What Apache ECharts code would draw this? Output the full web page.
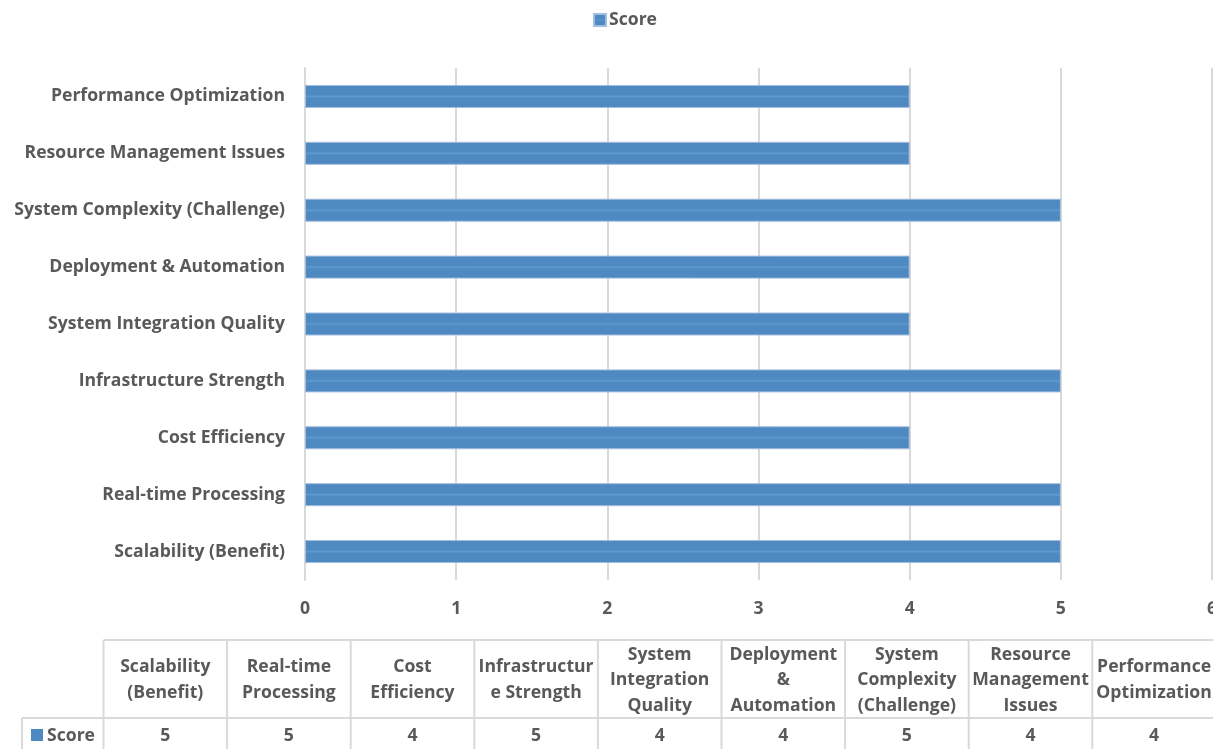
<!DOCTYPE html>
<html>
<head>
<meta charset="utf-8">
<script src="https://cdn.jsdelivr.net/npm/echarts@6/dist/echarts.min.js"></script>
<style>
html,body{margin:0;padding:0;background:#fff;}
#chart{width:1213px;height:749px;}
</style>
</head>
<body>
<div id="chart"></div>
<script>
const categories = [
  'Scalability (Benefit)',
  'Real-time Processing',
  'Cost Efficiency',
  'Infrastructure Strength',
  'System Integration Quality',
  'Deployment & Automation',
  'System Complexity (Challenge)',
  'Resource Management Issues',
  'Performance Optimization'
];
const scores = [5, 5, 4, 5, 4, 4, 5, 4, 4];
const tableHeaders = [
  ['Scalability', '(Benefit)'],
  ['Real-time', 'Processing'],
  ['Cost', 'Efficiency'],
  ['Infrastructur', 'e Strength'],
  ['System', 'Integration', 'Quality'],
  ['Deployment', '&', 'Automation'],
  ['System', 'Complexity', '(Challenge)'],
  ['Resource', 'Management', 'Issues'],
  ['Performance', 'Optimization']
];
const seriesName = 'Score';
const xTicks = [0, 1, 2, 3, 4, 5, 6];

const FONT = '"Open Sans", sans-serif';
const FS = 17.6;
const TXT = '#595959';
const GRIDC = '#D9D9D9';
const BAR = '#4F89C1';

const chart = echarts.init(document.getElementById('chart'));

// table geometry
const tLeft = 103.5, colW = 123.6, headTop = 640, headBot = 718, rowBot = 752, keyLeft = 22;
const g = [];
const line = (x1, y1, x2, y2) => g.push({type:'line', shape:{x1, y1, x2, y2}, style:{stroke:GRIDC, lineWidth:2}, silent:true});
line(tLeft, headTop, 1213, headTop);
line(keyLeft, headBot, 1213, headBot);
line(keyLeft, headBot, keyLeft, rowBot);
for (let i = 0; i <= categories.length; i++) {
  const x = tLeft + i * colW;
  line(x, headTop, x, rowBot);
}
const lh = 25.5;
const tfont = 'bold ' + FS + 'px ' + FONT;
tableHeaders.forEach((lines, i) => {
  const cx = tLeft + (i + 0.5) * colW;
  const mid = (headTop + headBot) / 2 + 1;
  lines.forEach((t, j) => {
    const y = mid + (j - (lines.length - 1) / 2) * lh;
    g.push({type:'text', x: cx, y: y, style:{text:t, fill:TXT, font:tfont, align:'center', verticalAlign:'middle'}, silent:true});
  });
  g.push({type:'text', x: cx, y: 736, style:{text:String(scores[i]), fill:TXT, font:tfont, align:'center', verticalAlign:'middle'}, silent:true});
});
g.push({type:'rect', shape:{x:31, y:729, width:12, height:12}, style:{fill:BAR}, silent:true});
g.push({type:'text', x: 47, y: 736, style:{text:seriesName, fill:TXT, font:tfont, align:'left', verticalAlign:'middle'}, silent:true});

chart.setOption({
  animation: false,
  backgroundColor: '#fff',
  legend: {
    data: [seriesName],
    left: 588, top: 6,
    icon: 'rect', itemWidth: 12, itemHeight: 12, itemGap: 10,
    textStyle: {color: TXT, fontFamily: FONT, fontWeight: 'bold', fontSize: FS, padding: [0, 0, 0, -2]}
  },
  grid: {left: 305, right: 1, top: 68, bottom: 169, containLabel: false, outerBoundsMode: 'none'},
  xAxis: {
    type: 'value', min: xTicks[0], max: xTicks[xTicks.length - 1], interval: 1,
    axisLine: {show: false}, axisTick: {show: false},
    splitLine: {show: true, lineStyle: {color: GRIDC, width: 2}},
    axisLabel: {color: TXT, fontFamily: FONT, fontWeight: 'bold', fontSize: FS, margin: 20, showMaxLabel: true}
  },
  yAxis: {
    type: 'category', data: categories,
    axisLine: {show: true, lineStyle: {color: GRIDC, width: 2}}, axisTick: {show: false},
    axisLabel: {color: TXT, fontFamily: FONT, fontWeight: 'bold', fontSize: FS, margin: 20, padding: [4, 0, 0, 0]}
  },
  series: [{
    name: seriesName, type: 'bar', data: scores, barWidth: 23,
    itemStyle: {
      color: new echarts.graphic.LinearGradient(0, 0, 0, 1, [
        {offset: 0, color: BAR}, {offset: 0.42, color: BAR},
        {offset: 0.5, color: '#5C9AD2'}, {offset: 0.58, color: BAR},
        {offset: 1, color: BAR}
      ]),
      borderColor: '#A3BEDD', borderWidth: 1
    }
  }],
  graphic: g
});
</script>
</body>
</html>
